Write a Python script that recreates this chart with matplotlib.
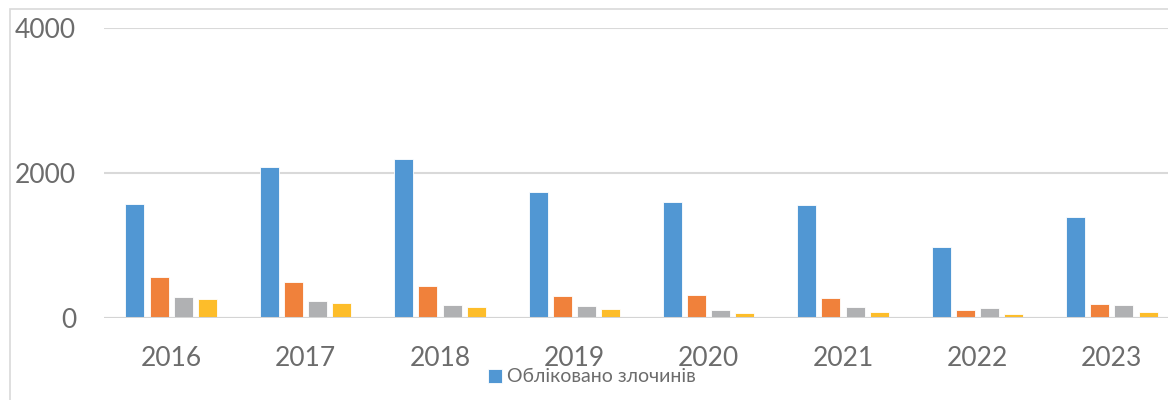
import matplotlib
matplotlib.use("Agg")
import matplotlib.pyplot as plt
from matplotlib.patches import Rectangle
import numpy as np

years = ["2016", "2017", "2018", "2019", "2020", "2021", "2022", "2023"]
series_names = ["Обліковано злочинів", "Серія 2", "Серія 3", "Серія 4"]
s1 = [1576, 2087, 2193, 1742, 1604, 1563, 983, 1397]
s2 = [570, 501, 446, 308, 317, 280, 115, 188]
s3 = [294, 239, 184, 170, 115, 152, 132, 184]
s4 = [257, 211, 152, 128, 73, 87, 59, 87]
yticks = [0, 2000, 4000]

colors = ["#5197d3", "#f0813b", "#b0b1b3", "#fdbd2a"]
text_color = "#6c6c6c"
plt.rcParams['font.family'] = ['Lato', 'DejaVu Sans']

W, H = 1168, 400
fig = plt.figure(figsize=(W / 100, H / 100), dpi=100)
ax = fig.add_axes([104 / W, 82 / H, 1075 / W, 290 / H])

x = np.arange(len(years))
pitch = 0.18
width = 0.141
bars = []
for i, (vals, c) in enumerate(zip([s1, s2, s3, s4], colors)):
    b = ax.bar(x + (i - 1.5) * pitch, vals, width, color=c,
               edgecolor="white", linewidth=0.6, zorder=3, label=series_names[i])
    bars.append(b)

ax.set_xlim(-0.5, len(years) - 0.5)
ax.set_ylim(0, 4000)
ax.set_yticks(yticks)
ax.set_yticklabels([str(t) for t in yticks])
ax.set_xticks(x)
ax.set_xticklabels(years)
ax.tick_params(axis="both", length=0, labelsize=19, colors=text_color)
ax.tick_params(axis="y", pad=20)
ax.tick_params(axis="x", pad=20)
for sp in ax.spines.values():
    sp.set_visible(False)
ax.grid(axis="y", color="#d9d9d9", linewidth=1.5, zorder=0)
ax.axhline(0, color="#d4d4d4", linewidth=2.2, zorder=4)

# outer chart border
fig.add_artist(Rectangle((10 / W, -0.1), 1.2, 1 - 9 / H + 0.1, transform=fig.transFigure,
                         fill=False, edgecolor="#d9d9d9", linewidth=1.2))

leg = fig.legend(handles=[bars[0]], labels=[series_names[0]], loc="center",
                 bbox_to_anchor=(592 / W, 1 - 377 / H), frameon=False,
                 fontsize=14, handlelength=0.7, handleheight=0.7, handletextpad=0.3,
                 labelcolor=text_color)

fig.savefig("out.png", dpi=100)
